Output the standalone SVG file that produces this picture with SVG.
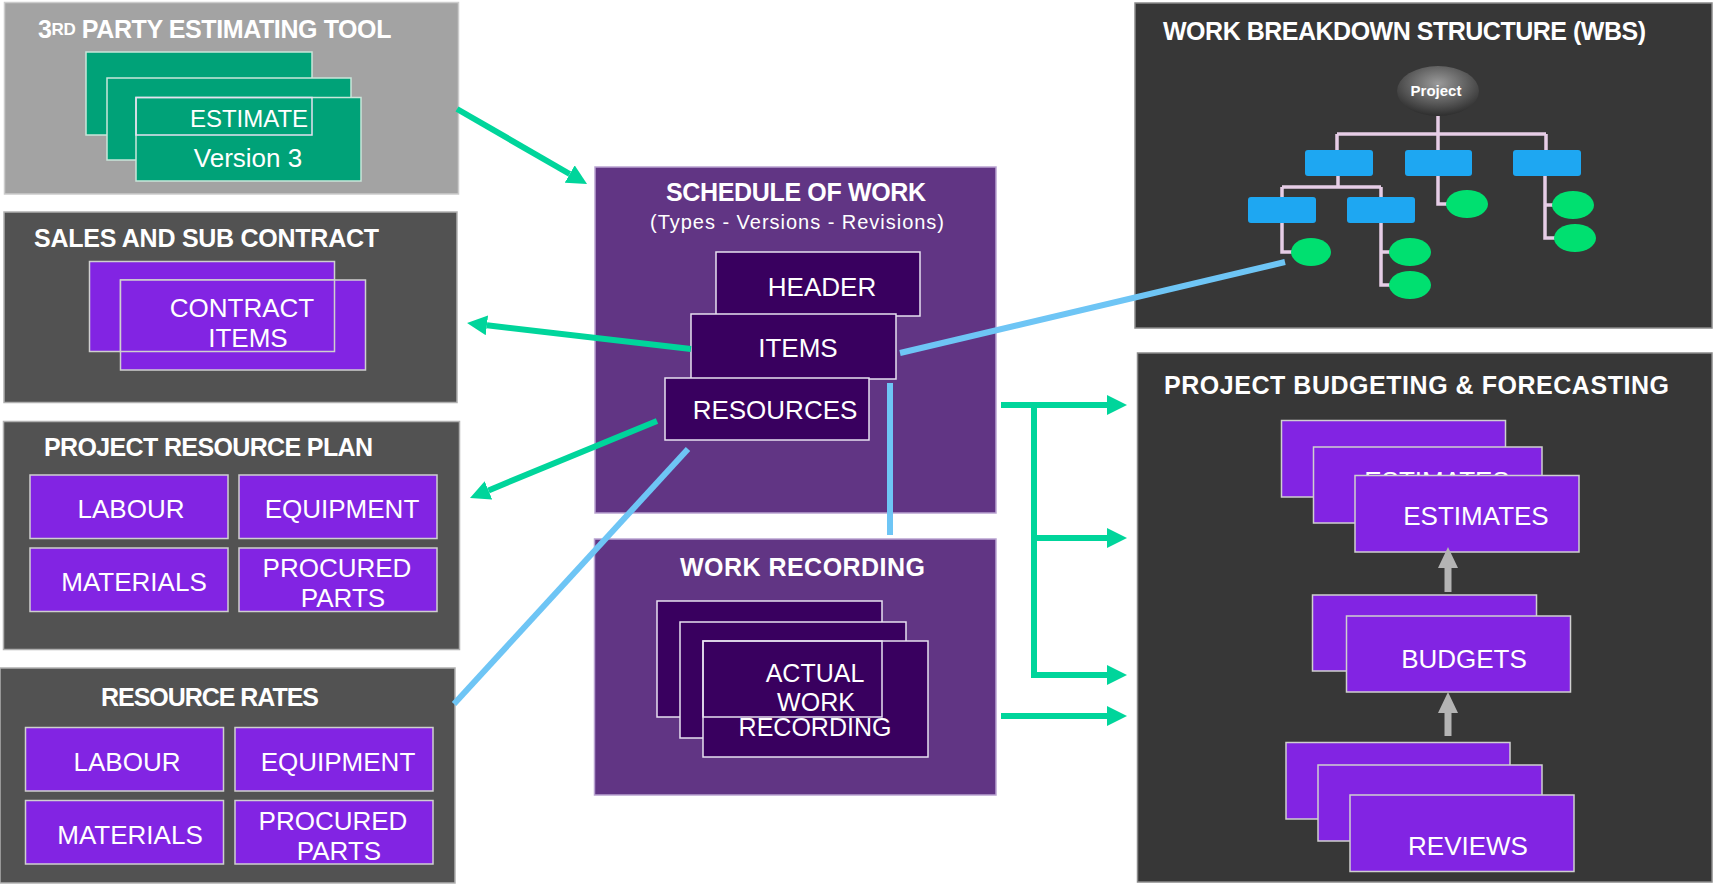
<svg xmlns="http://www.w3.org/2000/svg" width="1715" height="884" viewBox="0 0 1715 884">
<defs>
<style>
.t{font-family:"Liberation Sans",Arial,sans-serif;fill:#fff}
.ttl{font-size:25px;font-weight:bold}
.in{font-size:26px;text-anchor:middle}
.panelL{fill:#525252;stroke:#b0b0b0;stroke-width:1.5}
.panelD{fill:#373737;stroke:#8a8a8a;stroke-width:1.5}
.panelP{fill:#613584;stroke:#b9a3d1;stroke-width:1.5}
.bp{fill:#8224e3;stroke:#cfcfcf;stroke-width:1.5}
.dp{fill:#39005f;stroke:#e6e0f0;stroke-width:1.5}
.gr{fill:#00a278;stroke:#c9e6da;stroke-width:1.5}
.ol{fill:none;stroke:#e6e0f0;stroke-width:1.5}
.grn{fill:none;stroke:#00d59b;stroke-width:6}
.blu{fill:none;stroke:#6ec5f5;stroke-width:6}
.tree{fill:none;stroke:#e6cde6;stroke-width:3.5}
.wb{fill:#1ea7f2}
.we{fill:#00e070}
.ga{fill:#b4b4b4}
</style>
<marker id="ah" viewBox="0 0 20 20" markerWidth="20" markerHeight="20" markerUnits="userSpaceOnUse" refX="0" refY="10" orient="auto">
<path d="M0,0 L20,10 L0,20 z" fill="#00d59b"/>
</marker>
<radialGradient id="pg" cx="50%" cy="35%" r="65%">
<stop offset="0" stop-color="#9a9a9a"/>
<stop offset="0.6" stop-color="#5a5a5a"/>
<stop offset="1" stop-color="#2e2e2e"/>
</radialGradient>
</defs>
<rect width="1715" height="884" fill="#fff"/>

<g id="third-party">
<rect x="4.5" y="2.5" width="454" height="191.5" fill="#a3a3a3" stroke="#cccccc" stroke-width="1.5"/>
<text class="t ttl" x="38" y="38" letter-spacing="-0.4">3<tspan font-size="17" dy="-3">RD</tspan><tspan dy="3"> PARTY ESTIMATING TOOL</tspan></text>
<rect class="gr" x="86" y="52" width="226" height="83"/>
<rect class="gr" x="107" y="78" width="244" height="82"/>
<rect class="gr" x="136" y="97.5" width="225" height="83.5"/>
<rect class="ol" x="136" y="97.5" width="176" height="37.5" stroke="#cfe8dd"/>
<text class="t" x="249" y="127" font-size="24" text-anchor="middle">ESTIMATE</text>
<text class="t" x="248" y="167" font-size="26" text-anchor="middle">Version 3</text>
</g>

<g id="sales">
<rect class="panelL" x="4" y="212" width="453" height="190.5"/>
<text class="t ttl" x="34" y="247" textLength="345">SALES AND SUB CONTRACT</text>
<rect class="bp" x="89.5" y="261.5" width="245" height="90"/>
<rect class="bp" x="120.5" y="280" width="245" height="90"/>
<rect class="bp" x="120.5" y="280" width="214" height="71.5" fill="none"/>
<text class="t in" x="242" y="317">CONTRACT</text>
<text class="t in" x="248" y="347">ITEMS</text>
</g>

<g id="resource-plan">
<rect class="panelL" x="3.5" y="421.5" width="456" height="228"/>
<text class="t ttl" x="44" y="456" textLength="329">PROJECT RESOURCE PLAN</text>
<rect class="bp" x="30" y="475" width="198" height="63.5"/>
<rect class="bp" x="239" y="475" width="198" height="63.5"/>
<rect class="bp" x="30" y="548" width="198" height="63.5"/>
<rect class="bp" x="239" y="548" width="198" height="63.5"/>
<text class="t in" x="131" y="518">LABOUR</text>
<text class="t in" x="342" y="518">EQUIPMENT</text>
<text class="t in" x="134" y="591">MATERIALS</text>
<text class="t in" x="337" y="577">PROCURED</text>
<text class="t in" x="343" y="607">PARTS</text>
</g>

<g id="resource-rates">
<rect class="panelL" x="0" y="668" width="455" height="215"/>
<text class="t ttl" x="101" y="706" textLength="218">RESOURCE RATES</text>
<rect class="bp" x="25.5" y="727.5" width="198" height="63.5"/>
<rect class="bp" x="235" y="727.5" width="198" height="63.5"/>
<rect class="bp" x="25.5" y="800.5" width="198" height="63.5"/>
<rect class="bp" x="235" y="800.5" width="198" height="63.5"/>
<text class="t in" x="127" y="771">LABOUR</text>
<text class="t in" x="338" y="771">EQUIPMENT</text>
<text class="t in" x="130" y="844">MATERIALS</text>
<text class="t in" x="333" y="830">PROCURED</text>
<text class="t in" x="339" y="860">PARTS</text>
</g>

<g id="schedule-of-work">
<rect class="panelP" x="595" y="167" width="401" height="346"/>
<text class="t ttl" x="666" y="201" textLength="260">SCHEDULE OF WORK</text>
<text class="t" x="650" y="229" font-size="20" textLength="294">(Types - Versions - Revisions)</text>
<rect class="dp" x="716" y="252" width="204" height="64"/>
<text class="t in" x="822" y="296">HEADER</text>
<rect class="dp" x="691" y="314" width="205" height="65"/>
<text class="t in" x="798" y="357">ITEMS</text>
<rect class="dp" x="665" y="378" width="204" height="62"/>
<text class="t in" x="775" y="419">RESOURCES</text>
</g>

<g id="work-recording">
<rect class="panelP" x="594.5" y="539" width="401.5" height="256"/>
<text class="t ttl" x="680" y="576" textLength="245">WORK RECORDING</text>
<rect class="dp" x="657" y="601" width="225" height="116"/>
<rect class="dp" x="680" y="622" width="226" height="116"/>
<rect class="dp" x="703" y="641" width="225" height="116"/>
<rect class="ol" x="703" y="641" width="179" height="76"/>
<text class="t" x="815" y="682" font-size="25" text-anchor="middle">ACTUAL</text>
<text class="t" x="816" y="711" font-size="25" text-anchor="middle">WORK</text>
<text class="t" x="815" y="736" font-size="25" text-anchor="middle">RECORDING</text>
</g>

<g id="wbs">
<rect class="panelD" x="1135" y="3" width="577" height="325"/>
<text class="t ttl" x="1163" y="40" textLength="483">WORK BREAKDOWN STRUCTURE (WBS)</text>
<path class="tree" d="M1438,116 V134 M1337,134 H1546 M1337,134 V150 M1438,134 V150 M1546,134 V150 M1338,176 V187 M1282,187 H1381 M1282,187 V197 M1381,187 V197 M1282,223 V252 H1293 M1381,223 V285 H1392 M1381,252 H1392 M1438,176 V204 H1450 M1545,176 V238 H1556 M1545,205 H1556"/>
<ellipse cx="1438" cy="91" rx="41" ry="25" fill="url(#pg)"/>
<text class="t" x="1436" y="96" font-size="15" font-weight="bold" text-anchor="middle">Project</text>
<rect class="wb" x="1305" y="150" width="68" height="26" rx="3"/>
<rect class="wb" x="1405" y="150" width="67" height="26" rx="3"/>
<rect class="wb" x="1513" y="150" width="68" height="26" rx="3"/>
<rect class="wb" x="1248" y="197" width="68" height="26" rx="3"/>
<rect class="wb" x="1347" y="197" width="68" height="26" rx="3"/>
<ellipse class="we" cx="1311" cy="252" rx="20" ry="14"/>
<ellipse class="we" cx="1410" cy="252" rx="21" ry="14"/>
<ellipse class="we" cx="1410" cy="285" rx="21" ry="14"/>
<ellipse class="we" cx="1467" cy="204" rx="21" ry="14"/>
<ellipse class="we" cx="1573" cy="205" rx="21" ry="14"/>
<ellipse class="we" cx="1575" cy="238" rx="21" ry="14"/>
</g>

<g id="budgeting">
<rect class="panelD" x="1137.5" y="353" width="574.5" height="529"/>
<text class="t ttl" x="1164" y="394" textLength="505">PROJECT BUDGETING &amp; FORECASTING</text>
<rect class="bp" x="1281.5" y="420.5" width="224" height="76.5"/>
<text class="t in" x="1402" y="465">ESTIMATES</text>
<rect class="bp" x="1313.5" y="447" width="228.5" height="76"/>
<text class="t in" x="1437" y="490">ESTIMATES</text>
<rect class="bp" x="1355" y="475.5" width="224" height="76.5"/>
<text class="t in" x="1476" y="525">ESTIMATES</text>
<path class="ga" d="M1444.5,592 V568 H1438 L1448,547 L1458,568 H1451.5 V592 z"/>
<rect class="bp" x="1312.5" y="595" width="224" height="76"/>
<rect class="bp" x="1346.5" y="616" width="224" height="76"/>
<text class="t in" x="1464" y="668">BUDGETS</text>
<path class="ga" d="M1444.5,736 V713 H1438 L1448,692 L1458,713 H1451.5 V736 z"/>
<rect class="bp" x="1286" y="742.5" width="224" height="76.5"/>
<rect class="bp" x="1318" y="765" width="224" height="76"/>
<text class="t in" x="1436" y="813">REVIEWS</text>
<rect class="bp" x="1350" y="795" width="224" height="76.5"/>
<text class="t in" x="1468" y="855">REVIEWS</text>
</g>

<g id="connectors">
<line class="grn" x1="457" y1="109" x2="569.7" y2="174" marker-end="url(#ah)"/>
<line class="grn" x1="691" y1="349" x2="486.9" y2="325.3" marker-end="url(#ah)"/>
<line class="grn" x1="657" y1="421" x2="488.5" y2="490.4" marker-end="url(#ah)"/>
<path class="grn" d="M1034,405 V678"/>
<line class="grn" x1="1001" y1="405" x2="1107" y2="405" marker-end="url(#ah)"/>
<line class="grn" x1="1034" y1="538" x2="1107" y2="538" marker-end="url(#ah)"/>
<line class="grn" x1="1031" y1="675" x2="1107" y2="675" marker-end="url(#ah)"/>
<line class="grn" x1="1001" y1="716" x2="1107" y2="716" marker-end="url(#ah)"/>
<line class="blu" x1="900" y1="353" x2="1285" y2="262"/>
<line class="blu" x1="890" y1="383" x2="890" y2="535"/>
<line class="blu" x1="688" y1="449" x2="454" y2="704"/>
</g>
</svg>
